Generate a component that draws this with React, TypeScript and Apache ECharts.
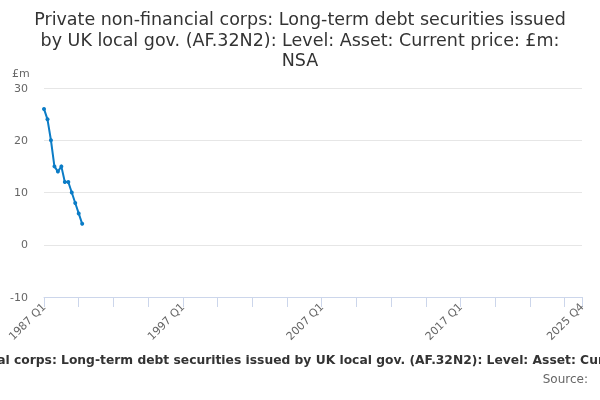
import React, { useEffect, useRef } from "react";
import * as echarts from "echarts";

const titleLines = [
  "Private non-financial corps: Long-term debt securities issued",
  "by UK local gov. (AF.32N2): Level: Asset: Current price: £m:",
  "NSA",
];
const seriesName =
  "Private non-financial corps: Long-term debt securities issued by UK local gov. (AF.32N2): Level: Asset: Current price: £m: NSA";
const startYear = 1987;
const endYear = 2025;
const quarters: string[] = [];
for (let y = startYear; y <= endYear; y++) {
  for (let q = 1; q <= 4; q++) quarters.push(`${y} Q${q}`);
}
const values: number[] = [26, 24, 20, 15, 14, 15, 12, 12, 10, 8, 6, 4];
const yTicks = { min: -10, max: 30, interval: 10 };

export default function App() {
  const ref = useRef<HTMLDivElement>(null);
  useEffect(() => {
    if (!ref.current) return;
    const chart = echarts.init(ref.current, undefined, { renderer: "svg" });
    const data = quarters.map((_, i) => (i < values.length ? values[i] : null));
    const last = quarters.length - 1;
    chart.setOption({
      animation: false,
      title: {
        text: titleLines.join("\n"),
        left: "center",
        top: 4,
        textStyle: {
          fontFamily: "DejaVu Sans",
          fontSize: 17.5,
          fontWeight: "normal",
          color: "#333333",
          lineHeight: 20.5,
        },
      },
      grid: { left: 44, right: 18, top: 88, bottom: 103, containLabel: false },
      xAxis: {
        type: "category",
        data: quarters,
        boundaryGap: false,
        axisLine: { onZero: false, lineStyle: { color: "#ccd6eb" } },
        axisTick: {
          show: true,
          lineStyle: { color: "#ccd6eb" },
          length: 10,
          interval: (i: number) => i % 10 === 0 || i === last,
        },
        axisLabel: {
          rotate: 45,
          color: "#666666",
          fontFamily: "DejaVu Sans",
          fontSize: 11,
          margin: 8,
          interval: (i: number) => i % 40 === 0 || i === last,
        },
        splitLine: { show: false },
      },
      yAxis: {
        type: "value",
        min: yTicks.min,
        max: yTicks.max,
        interval: yTicks.interval,
        axisLine: { show: false },
        axisTick: { show: false },
        axisLabel: {
          color: "#666666",
          fontFamily: "DejaVu Sans",
          fontSize: 11,
          margin: 16,
        },
        splitLine: { lineStyle: { color: "#e6e6e6" } },
      },
      graphic: [
        {
          type: "text",
          left: 12,
          top: 68,
          style: {
            text: "£m",
            fill: "#666666",
            font: "11px 'DejaVu Sans'",
          },
        },
        {
          type: "text",
          x: 303,
          y: 354,
          style: {
            text: seriesName,
            fill: "#333333",
            font: "bold 12.3px 'DejaVu Sans'",
            textAlign: "center",
          },
        },
        {
          type: "text",
          x: 588,
          y: 373,
          style: {
            text: "Source:",
            fill: "#666666",
            font: "12px 'DejaVu Sans'",
            textAlign: "right",
          },
        },
      ],
      series: [
        {
          type: "line",
          name: seriesName,
          data,
          connectNulls: false,
          symbol: "circle",
          symbolSize: 4,
          showSymbol: true,
          showAllSymbol: true,
          itemStyle: { color: "#0b7cc6" },
          lineStyle: { color: "#0b7cc6", width: 2 },
        },
      ],
    });
    return () => chart.dispose();
  }, []);
  return (
    <div
      ref={ref}
      style={{ position: "fixed", left: 0, top: 0, width: 600, height: 400 }}
    />
  );
}
